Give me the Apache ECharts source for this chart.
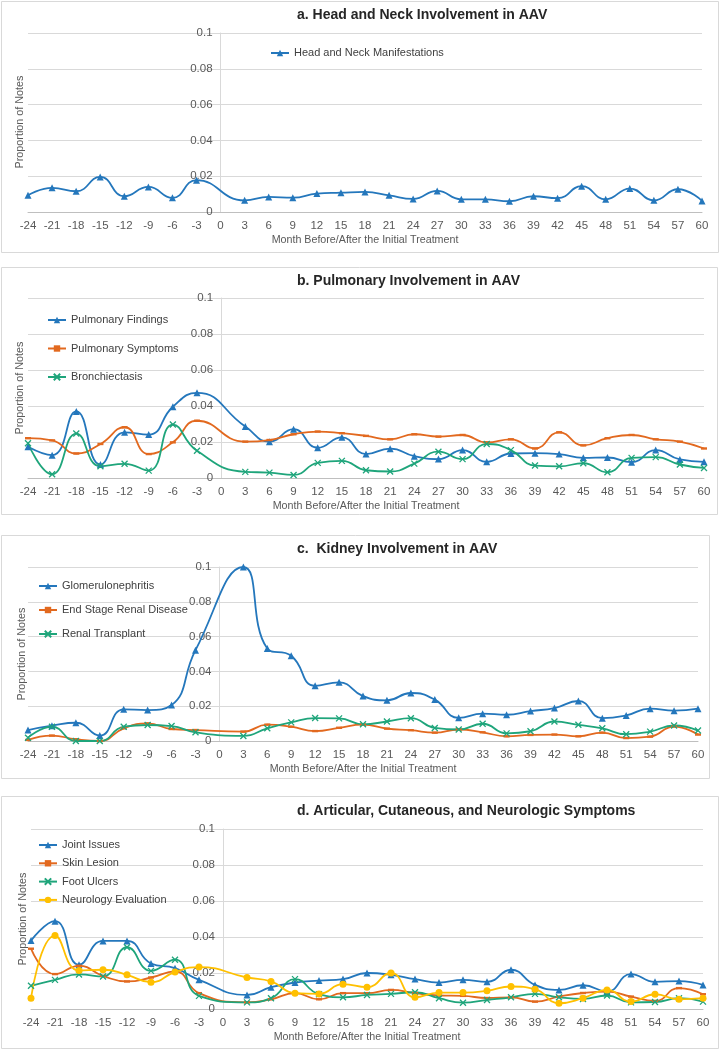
<!DOCTYPE html>
<html>
<head>
<meta charset="utf-8">
<script src="https://cdn.jsdelivr.net/npm/echarts@6/dist/echarts.min.js"></script>
<style>
  html, body { margin: 0; padding: 0; background: #ffffff; }
  #chart { width: 720px; height: 1050px; }
</style>
</head>
<body>
<div id="chart"></div>
<script>
// ---- Data (months without 0; y axis crosses at month 0) ----
const months = [-24,-21,-18,-15,-12,-9,-6,-3,3,6,9,12,15,18,21,24,27,30,33,36,39,42,45,48,51,54,57,60];

const headNeck = [0.0093,0.0135,0.0116,0.0196,0.0088,0.014,0.0079,0.0178,0.0065,0.0084,0.008,0.0103,0.0108,0.0112,0.0093,0.0073,0.0118,0.0071,0.0071,0.006,0.0088,0.0077,0.0144,0.0071,0.0131,0.0065,0.0127,0.0062];

const pulmFindings = [0.0174,0.0127,0.037,0.0075,0.0254,0.0241,0.0396,0.0473,0.0286,0.0202,0.0271,0.0168,0.0226,0.0133,0.0163,0.0121,0.0105,0.0155,0.009,0.0136,0.0138,0.0133,0.0112,0.0114,0.0088,0.0155,0.0103,0.009];
const pulmSymptoms = [0.0221,0.0209,0.0136,0.0189,0.0282,0.0133,0.0198,0.0318,0.0202,0.0211,0.0243,0.0258,0.0249,0.0234,0.0215,0.0243,0.023,0.0239,0.0198,0.0215,0.0164,0.0254,0.0181,0.0221,0.0239,0.0215,0.0202,0.0164];
const bronchiectasis = [0.0193,0.0021,0.0247,0.0065,0.0079,0.0041,0.0297,0.0151,0.0034,0.003,0.0017,0.0084,0.0095,0.0043,0.0036,0.008,0.0146,0.0105,0.0189,0.0155,0.0069,0.0065,0.0082,0.0032,0.0112,0.0116,0.0075,0.0056];

const glomerulonephritis = [0.0063,0.0088,0.0105,0.0031,0.0182,0.0178,0.0207,0.0522,0.1,0.0532,0.049,0.0317,0.0337,0.0258,0.0234,0.0276,0.0238,0.0133,0.0157,0.0151,0.0172,0.0189,0.023,0.0131,0.0147,0.0186,0.0174,0.0186];
const esrd = [0.0006,0.0031,0.001,0.0,0.0073,0.0101,0.0069,0.0063,0.0054,0.0094,0.0082,0.0057,0.0076,0.0094,0.0071,0.0062,0.0048,0.0066,0.005,0.0027,0.0035,0.0037,0.0027,0.0048,0.0017,0.0025,0.0083,0.0037];
const renalTransplant = [0.0019,0.0082,0.0,0.0,0.0082,0.0092,0.0086,0.005,0.0029,0.0073,0.0107,0.0132,0.013,0.0096,0.0112,0.0131,0.0075,0.0066,0.0099,0.0044,0.0056,0.0112,0.0093,0.0073,0.0039,0.0054,0.0089,0.006];

const jointIssues = [0.038,0.0488,0.0246,0.0378,0.0378,0.0253,0.0227,0.0162,0.0078,0.0121,0.0147,0.0158,0.0166,0.02,0.019,0.0166,0.0147,0.0162,0.0151,0.0218,0.0134,0.0106,0.0132,0.0097,0.0194,0.0151,0.0155,0.0134];
const skinLesion = [0.0335,0.0194,0.024,0.0184,0.0153,0.0175,0.0209,0.0088,0.0037,0.0054,0.0088,0.0054,0.0088,0.0088,0.0106,0.0088,0.0075,0.0073,0.0061,0.0065,0.0041,0.0069,0.0089,0.0097,0.0069,0.0045,0.0116,0.0082];
const footUlcers = [0.0129,0.0162,0.0192,0.0181,0.0343,0.0212,0.0274,0.0073,0.0037,0.006,0.0166,0.0082,0.0065,0.0078,0.0084,0.0093,0.006,0.0035,0.005,0.0065,0.0084,0.0065,0.0056,0.0075,0.0037,0.0039,0.006,0.0041];
const neurology = [0.006,0.0408,0.0214,0.0218,0.019,0.0149,0.0205,0.0233,0.0175,0.0153,0.0088,0.0084,0.0138,0.0121,0.02,0.0065,0.0091,0.0091,0.0101,0.0125,0.011,0.0032,0.006,0.0106,0.0041,0.0082,0.0054,0.006];

const panelTitles = [
  'a. Head and Neck Involvement in AAV',
  'b. Pulmonary Involvement in AAV',
  'c.  Kidney Involvement in AAV',
  'd. Articular, Cutaneous, and Neurologic Symptoms'
];
const xAxisTitle = 'Month Before/After the Initial Treatment';
const yAxisTitle = 'Proportion of Notes';

// ---- Styling ----
const SANS = "'Liberation Sans', Arial, sans-serif";
const BLUE = '#2477BC', ORANGE = '#E2691F', GREEN = '#1FA57B', YELLOW = '#FFC000';
const TXT = '#595959';

const crossPath = 'path://M0,0L10,10M10,0L0,10';
const dashPath = 'path://M0,0L10,0L10,4L0,4Z';

function mk(arr) { return months.map((m, i) => [m, arr[i]]); }

const markerStyles = {
  tri:   { symbol: 'triangle', symbolSize: 7 },
  dash:  { symbol: dashPath, symbolSize: 6 },
  cross: { symbol: crossPath, symbolSize: 6 },
  dot:   { symbol: 'circle', symbolSize: 7 }
};

const panels = [
  { grid: { left: 28, top: 33, width: 674, height: 179 }, frame: [1, 1, 717, 251], titleTop: 8,
    yTitle: [20, 122],
    legend: { left: 270, top: 46, itemGap: 10 },
    series: [ { name: 'Head and Neck Manifestations', data: headNeck, color: BLUE, m: 'tri' } ] },
  { grid: { left: 28, top: 298, width: 676, height: 180 }, frame: [1, 267, 716, 247], titleTop: 274,
    yTitle: [20, 388],
    legend: { left: 47, top: 313, itemGap: 14.5 },
    series: [
      { name: 'Pulmonary Findings', data: pulmFindings, color: BLUE, m: 'tri' },
      { name: 'Pulmonary Symptoms', data: pulmSymptoms, color: ORANGE, m: 'dash' },
      { name: 'Bronchiectasis', data: bronchiectasis, color: GREEN, m: 'cross' } ] },
  { grid: { left: 28, top: 567, width: 670, height: 174 }, frame: [1, 535, 708, 243], titleTop: 542,
    yTitle: [22, 654],
    legend: { left: 38, top: 579, itemGap: 10 },
    series: [
      { name: 'Glomerulonephritis', data: glomerulonephritis, color: BLUE, m: 'tri' },
      { name: 'End Stage Renal Disease', data: esrd, color: ORANGE, m: 'dash' },
      { name: 'Renal Transplant', data: renalTransplant, color: GREEN, m: 'cross' } ] },
  { grid: { left: 31, top: 829, width: 672, height: 180 }, frame: [1, 796, 717, 252], titleTop: 804,
    yTitle: [23, 919],
    legend: { left: 38, top: 838, itemGap: 4.3 },
    series: [
      { name: 'Joint Issues', data: jointIssues, color: BLUE, m: 'tri' },
      { name: 'Skin Lesion', data: skinLesion, color: ORANGE, m: 'dash' },
      { name: 'Foot Ulcers', data: footUlcers, color: GREEN, m: 'cross' },
      { name: 'Neurology Evaluation', data: neurology, color: YELLOW, m: 'dot' } ] }
];

const option = {
  animation: false,
  backgroundColor: '#ffffff',
  title: [], grid: [], xAxis: [], yAxis: [], legend: [], series: [], graphic: []
};

panels.forEach((p, gi) => {
  option.graphic.push({
    type: 'rect', z: -10, silent: true,
    shape: { x: p.frame[0] + 0.5, y: p.frame[1] + 0.5, width: p.frame[2], height: p.frame[3] },
    style: { fill: '#ffffff', stroke: '#D9D9D9', lineWidth: 1 }
  });
  option.graphic.push({
    type: 'text', silent: true, x: p.yTitle[0], y: p.yTitle[1], rotation: Math.PI / 2,
    style: { text: yAxisTitle, fill: TXT, font: '10.8px ' + SANS, align: 'center', verticalAlign: 'middle',
             textAlign: 'center', textVerticalAlign: 'middle' }
  });
  option.title.push({
    text: panelTitles[gi], left: 297, top: p.titleTop, padding: 0,
    textStyle: { fontFamily: SANS, fontSize: 14, fontWeight: 'bold', color: '#262626' }
  });
  option.grid.push(Object.assign({ containLabel: false, outerBoundsMode: 'none' }, p.grid));
  option.xAxis.push({
    type: 'value', gridIndex: gi, min: -24, max: 60, interval: 3,
    name: xAxisTitle, nameLocation: 'middle', nameGap: 23,
    nameTextStyle: { fontFamily: SANS, fontSize: 10.7, color: TXT },
    axisLine: { show: true, onZero: false, lineStyle: { color: '#BFBFBF', width: 1 } },
    axisTick: { show: false },
    axisLabel: { fontFamily: SANS, fontSize: 11.5, color: TXT, margin: 8 },
    splitLine: { show: false }
  });
  option.yAxis.push({
    type: 'value', gridIndex: gi, min: 0, max: 0.1, interval: 0.02,
    position: 'left',
    offset: -p.grid.width * 8 / 28,
    axisLine: { show: true, onZero: false, lineStyle: { color: '#D9D9D9', width: 1 } },
    axisTick: { show: false },
    axisLabel: { fontFamily: SANS, fontSize: 11.5, color: TXT, margin: 8 },
    splitLine: { show: true, lineStyle: { color: '#D9D9D9', width: 1 } }
  });
  option.legend.push({
    orient: 'vertical', left: p.legend.left, top: p.legend.top, padding: 0,
    itemGap: p.legend.itemGap, itemWidth: 18, itemHeight: 8,
    selectedMode: false,
    data: p.series.map(s => s.name),
    textStyle: { fontFamily: SANS, fontSize: 11, color: '#404040', lineHeight: 14 }
  });
  p.series.forEach(s => {
    const ms = markerStyles[s.m];
    option.series.push({
      name: s.name, type: 'line', xAxisIndex: gi, yAxisIndex: gi,
      data: mk(s.data), smooth: 0.5, showAllSymbol: true,
      symbol: ms.symbol, symbolSize: ms.symbolSize, symbolKeepAspect: true,
      lineStyle: { color: s.color, width: 1.8 },
      itemStyle: { color: s.color, borderColor: s.color, borderWidth: s.m === 'cross' ? 1.3 : 0 },
      emphasis: { disabled: true }
    });
  });
});

const chart = echarts.init(document.getElementById('chart'), null, { renderer: 'canvas' });
chart.setOption(option);
</script>
</body>
</html>
